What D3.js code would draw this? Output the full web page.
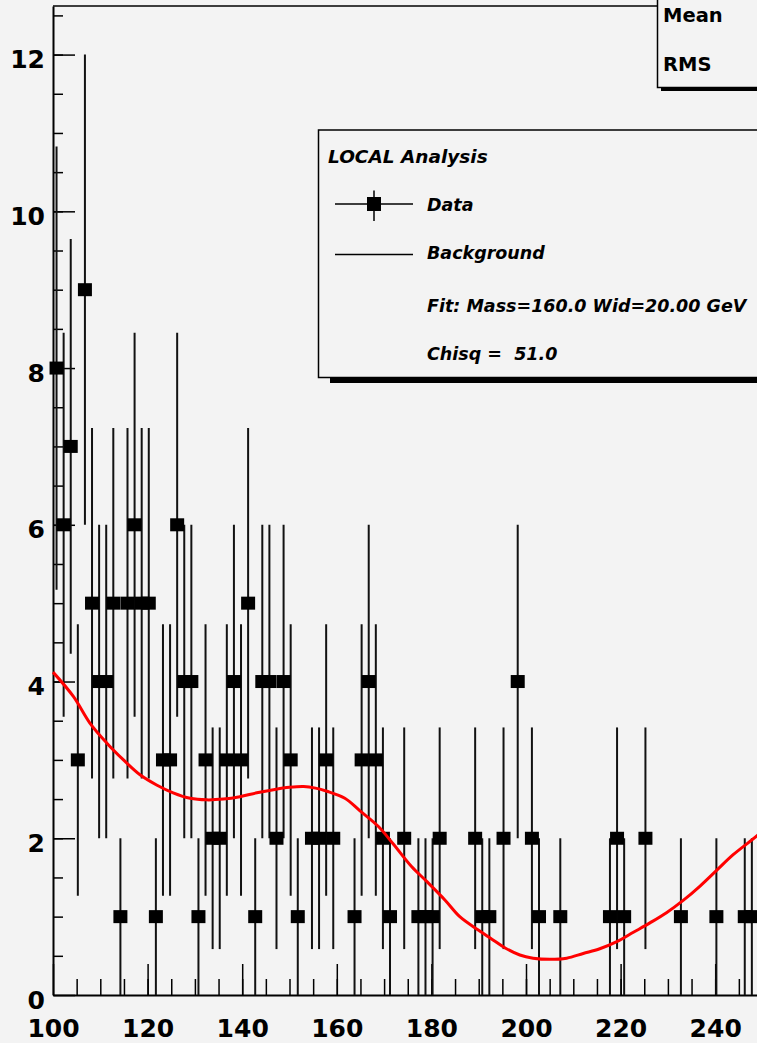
<!DOCTYPE html>
<html>
<head>
<meta charset="utf-8">
<script src="https://cdn.jsdelivr.net/npm/d3@7"></script>
<style>
  html, body { margin: 0; padding: 0; background: #f3f3f3; overflow: hidden; }
  svg { display: block; }
  text { font-family: "DejaVu Sans", sans-serif; font-weight: bold; fill: #000; }
</style>
</head>
<body>
<div id="chart"></div>
<script>
// histogram: 100 bins between 100 and 250 GeV
const histMin = 100;
const histMax = 250;
const counts = [
    8, 6, 7, 3, 9, 5, 4, 4, 5, 1,
    5, 6, 5, 5, 1, 3, 3, 6, 4, 4,
    1, 3, 2, 2, 3, 4, 3, 5, 1, 4,
    4, 2, 4, 3, 1, 0, 2, 2, 3, 2,
    0, 0, 1, 3, 4, 3, 2, 1, 0, 2,
    0, 1, 1, 1, 2, 0, 0, 0, 0, 2,
    1, 1, 0, 2, 0, 4, 0, 2, 1, 0,
    0, 1, 0, 0, 0, 0, 0, 0, 1, 2,
    1, 0, 0, 2, 0, 0, 0, 0, 1, 0,
    0, 0, 0, 1, 0, 0, 0, 1, 1, 0
];

// fitted curve
const fitMass = [100, 104.3, 107.8, 111.3, 114.9, 118.4, 121.9, 125.4, 129, 132.5,
    136, 139.5, 143.1, 146.6, 150, 153, 155.5, 157.9, 161.7, 164.9,
    168.8, 171.9, 175.8, 179, 182.9, 186, 189.9, 193.1, 195.6, 198.7,
    201.5, 205.1, 208.6, 212.1, 215.6, 219.2, 222.7, 226.2, 229.7, 233.3,
    236.8, 240.3, 243.8, 248.8, 250];
const fitValue = [4.12, 3.81, 3.47, 3.22, 3.0, 2.81, 2.68, 2.58, 2.51, 2.49,
    2.5, 2.53, 2.58, 2.62, 2.65, 2.66, 2.64, 2.6, 2.51, 2.35,
    2.15, 1.93, 1.64, 1.45, 1.21, 1.0, 0.83, 0.7, 0.6, 0.51,
    0.47, 0.455, 0.47, 0.53, 0.59, 0.68, 0.8, 0.92, 1.05, 1.21,
    1.39, 1.59, 1.79, 2.03, 2.1];

const xTickLabels = [100, 120, 140, 160, 180, 200, 220, 240];
const yTickLabels = [0, 2, 4, 6, 8, 10, 12];
const legendTitle = "LOCAL Analysis";
const legendEntries = ["Data", "Background", "Fit: Mass=160.0 Wid=20.00 GeV", "Chisq =  51.0"];
const statsLabels = ["Mean", "RMS"];

const width = 757, height = 1043;
const bg = "#f3f3f3";

const binWidth = (histMax - histMin) / counts.length;
const bins = counts.map((c, i) => ({center: histMin + (i + 0.5) * binWidth, n: c}));

const x = d3.scaleLinear().domain([histMin, histMax]).range([53, 762.5]);
const y = d3.scaleLinear().domain([0, 12.62]).range([995, 6]);

const svg = d3.select("#chart").append("svg")
    .attr("width", width)
    .attr("height", height);

svg.append("rect").attr("width", width).attr("height", height).attr("fill", bg);

// frame top line
svg.append("line")
    .attr("x1", x(histMin)).attr("x2", x(histMax))
    .attr("y1", y.range()[1]).attr("y2", y.range()[1])
    .attr("stroke", "#000").attr("stroke-width", 1.5);

// x axis: minor ticks every 5, major every 20
const xMinor = svg.append("g")
    .attr("transform", `translate(0,${y(0)})`)
    .call(d3.axisBottom(x).tickValues(d3.range(105, 250, 5)).tickSizeInner(-16).tickSizeOuter(0).tickFormat(""));
xMinor.select(".domain").remove();

const xAxis = svg.append("g")
    .attr("transform", `translate(0,${y(0)})`)
    .call(d3.axisBottom(x).tickValues(xTickLabels).tickSizeInner(-31).tickSizeOuter(0).tickPadding(0));
xAxis.selectAll("text")
    .attr("y", 42).attr("dy", null)
    .style("font-size", "25px");

// y axis: minor every 0.5, major every 2
const yMinor = svg.append("g")
    .attr("transform", `translate(${x(histMin)},0)`)
    .call(d3.axisLeft(y).tickValues(d3.range(0.5, 12.6, 0.5)).tickSizeInner(-10).tickSizeOuter(0).tickFormat(""));
yMinor.select(".domain").remove();

const yAxis = svg.append("g")
    .attr("transform", `translate(${x(histMin)},0)`)
    .call(d3.axisLeft(y).tickValues(yTickLabels).tickSizeInner(-22).tickSizeOuter(0).tickPadding(8));
yAxis.selectAll("text")
    .attr("dy", "13px")
    .style("font-size", "25px");

svg.selectAll(".tick line").attr("stroke", "#000").attr("stroke-width", 1.5);
svg.selectAll(".domain").attr("stroke", "#000").attr("stroke-width", 2);

// data points with poisson errors
const filled = bins.filter(d => d.n > 0);
const pts = svg.append("g");
pts.selectAll("line")
    .data(filled)
    .join("line")
    .attr("x1", d => x(d.center)).attr("x2", d => x(d.center))
    .attr("y1", d => y(d.n - Math.sqrt(d.n)))
    .attr("y2", d => y(d.n + Math.sqrt(d.n)))
    .attr("stroke", "#111").attr("stroke-width", 2);
pts.selectAll("rect")
    .data(filled)
    .join("rect")
    .attr("x", d => x(d.center) - 7)
    .attr("y", d => y(d.n) - 6.5)
    .attr("width", 14).attr("height", 13)
    .attr("fill", "#000");

// fit curve
const line = d3.line()
    .x((d, i) => x(fitMass[i]))
    .y(d => y(d))
    .curve(d3.curveCatmullRom);
svg.append("path")
    .attr("d", line(fitValue))
    .attr("fill", "none")
    .attr("stroke", "#ff0000")
    .attr("stroke-width", 3);

// stats box (mostly off the top right)
svg.append("rect").attr("x", 661).attr("y", 87).attr("width", 200).attr("height", 4).attr("fill", "#000");
svg.append("rect").attr("x", 657.5).attr("y", -20).attr("width", 200).attr("height", 107.5)
    .attr("fill", bg).attr("stroke", "#000").attr("stroke-width", 1.5);
svg.selectAll(".stat")
    .data(statsLabels)
    .join("text")
    .attr("class", "stat")
    .attr("x", 663)
    .attr("y", (d, i) => 22 + i * 49)
    .style("font-size", "19.5px")
    .text(d => d);

// legend
const leg = svg.append("g");
leg.append("rect").attr("x", 330).attr("y", 377.5).attr("width", 500).attr("height", 5.5).attr("fill", "#000");
leg.append("rect").attr("x", 318.5).attr("y", 130).attr("width", 500).attr("height", 247.5)
    .attr("fill", bg).attr("stroke", "#000").attr("stroke-width", 1.5);
leg.append("text")
    .attr("x", 328).attr("y", 163)
    .style("font-size", "18.5px").style("font-style", "italic")
    .text(legendTitle);

leg.append("line").attr("x1", 335).attr("x2", 413).attr("y1", 204).attr("y2", 204)
    .attr("stroke", "#000").attr("stroke-width", 1.5);
leg.append("line").attr("x1", 374).attr("x2", 374).attr("y1", 190.5).attr("y2", 221)
    .attr("stroke", "#000").attr("stroke-width", 1.5);
leg.append("rect").attr("x", 367).attr("y", 197).attr("width", 14).attr("height", 14).attr("fill", "#000");
leg.append("line").attr("x1", 335).attr("x2", 413).attr("y1", 254.5).attr("y2", 254.5)
    .attr("stroke", "#000").attr("stroke-width", 1.5);

const entryY = [211, 259, 312, 360];
leg.selectAll(".entry")
    .data(legendEntries)
    .join("text")
    .attr("class", "entry")
    .attr("x", 427)
    .attr("y", (d, i) => entryY[i])
    .style("font-size", "17.5px").style("font-style", "italic")
    .style("white-space", "pre")
    .text(d => d);
</script>
</body>
</html>
